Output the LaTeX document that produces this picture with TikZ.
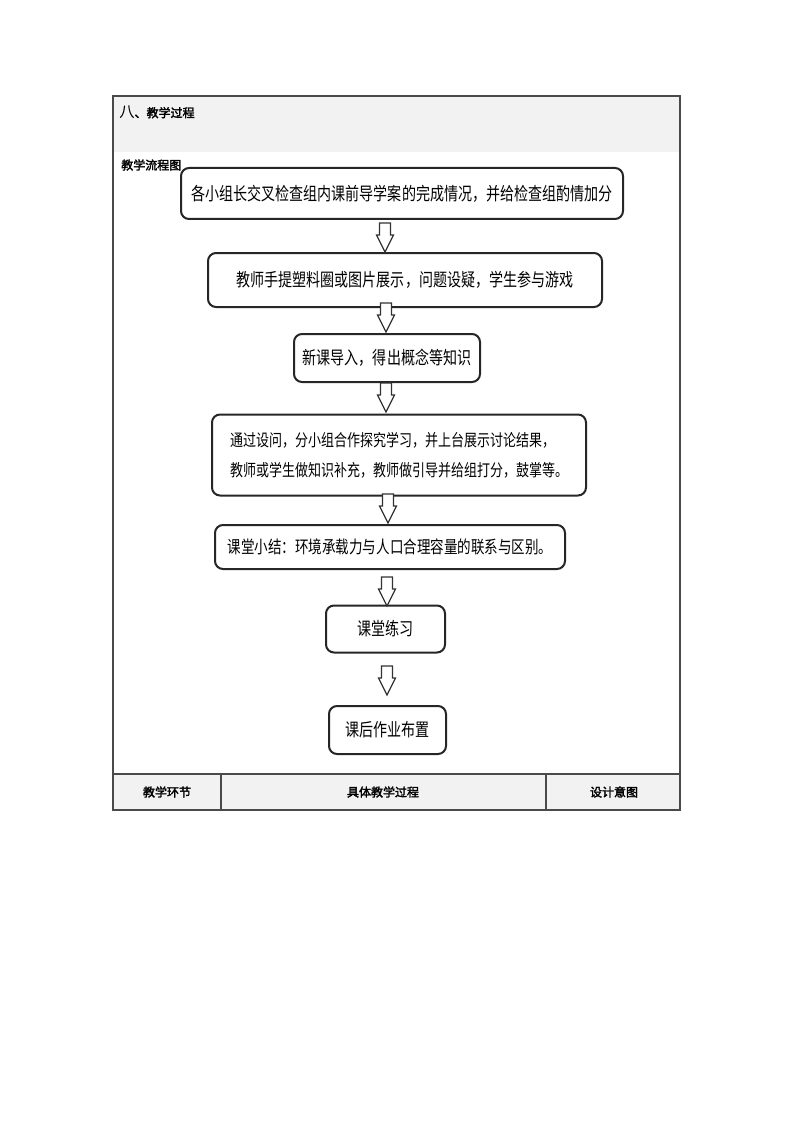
\documentclass[tikz,border=0pt]{standalone}
\usepackage{fontspec}
\setmainfont{Noto Sans CJK SC}
\newfontfamily\boxfont{Noto Sans CJK SC}[FakeStretch=0.78]
\newfontfamily\headfont{Noto Sans CJK SC}[FakeBold=2.4]
\usepackage{tikz}
\usetikzlibrary{calc}
\newdimen\pxu \pxu=0.75pt
\definecolor{rulegray}{HTML}{4A4A4A}
\definecolor{cellgray}{HTML}{F2F2F2}
\tikzset{
	stepbox/.style={draw=black!85, line width=1.5pt, rounded corners=6pt, fill=white, inner sep=0pt, align=left, font=\boxfont\fontsize{#1}{22.5}\selectfont},
	stepbox/.default=13.5,
	hollowarrow/.style={draw=black!80, line width=0.9pt, fill=white, line join=miter},
	headtext/.style={font=\headfont\fontsize{9}{11}\selectfont, inner sep=0pt},
}

\begin{document}
\begin{tikzpicture}[x=\pxu, y=-\pxu]
		\useasboundingbox (0,0) rectangle (794,1123);
		% table frame
		\fill[cellgray] (113,96) rectangle (680,152);
		\fill[cellgray] (113,774) rectangle (680,810);
		\draw[rulegray, line width=0.8pt] (113,96) rectangle (680,810);
		\draw[rulegray, line width=0.8pt] (113,774) -- (680,774);
		\draw[rulegray, line width=0.8pt] (221,774) -- (221,810);
		\draw[rulegray, line width=0.8pt] (546,774) -- (546,810);
		\node[anchor=west, inner sep=0pt] (title) at (119,112) {{\fontsize{11.5}{13}\selectfont 八}{\headfont\fontsize{9}{11}\selectfont 、教学过程}};
		\node[headtext, anchor=west] (flowtitle) at (121,165) {教学流程图};
		\node[headtext] (col-1) at (167,792) {教学环节};
		\node[headtext] (col-2) at (383,792) {具体教学过程};
		\node[headtext] (col-3) at (614,792) {设计意图};
		% flow boxes
		\foreach[count=\i] \bx/\by/\bw/\bh/\bs/\btext in {
			402/193.5/442/51/13.5/{各小组长交叉检查组内课前导学案的完成情况，并给检查组酌情加分},
			405/280/394/54/13.5/{教师手提塑料圈或图片展示，问题设疑，学生参与游戏},
			387/358/186/48/13.5/{新课导入，得出概念等知识},
			399/455/374/81/12.5/{通过设问，分小组合作探究学习，并上台展示讨论结果，\\教师或学生做知识补充，教师做引导并给组打分，鼓掌等。},
			390/547/350/44/13/{课堂小结：环境承载力与人口合理容量的联系与区别。},
			385.5/629/119/47/13.5/{课堂练习},
			387.5/730/117/48/13.5/{课后作业布置}} {
			\node[stepbox=\bs, minimum width=\bw\pxu, minimum height=\bh\pxu] (step-\i) at (\bx,\by) {\btext};
		}
		% hollow down arrows
		\foreach[count=\i] \ax/\ay in {385/223, 386/303, 386/383, 388/494, 387/577, 387/666} {
			\draw[hollowarrow] (\ax-5.5,\ay) -- ++(11,0) -- ++(0,12) -- ++(3,0) -- ++(-8.5,17) -- ++(-8.5,-17) -- ++(3,0) -- cycle;
		}
	\end{tikzpicture}
\end{document}
